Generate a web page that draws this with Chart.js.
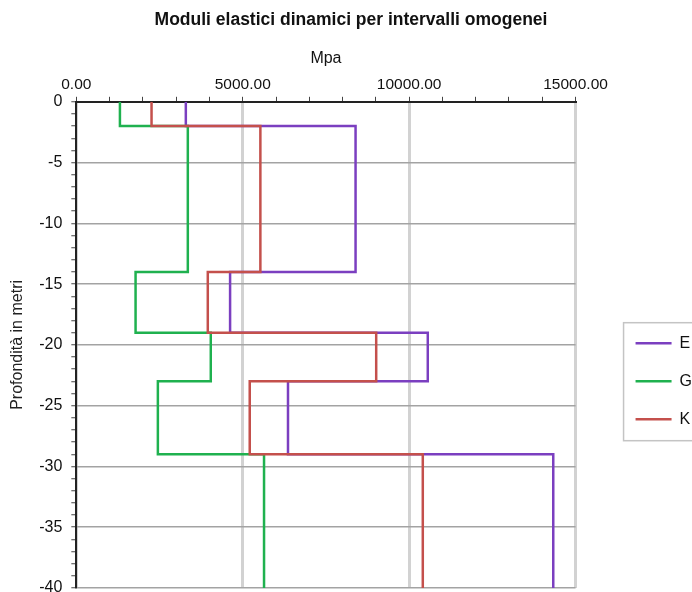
<!DOCTYPE html>
<html lang="it">
<head>
<meta charset="utf-8">
<title>Moduli elastici dinamici</title>
<script src="https://cdn.jsdelivr.net/npm/chart.js@4.4.1/dist/chart.umd.min.js"></script>
<style>
  html, body { margin:0; padding:0; background:#fff; }
  #box { position:relative; width:692px; height:592px; }
</style>
</head>
<body>
<div id="box"><canvas id="grafico"></canvas></div>
<script>
/* moduli per intervallo omogeneo: un valore per strato, strati delimitati da "profondita" */
const profondita = [0, -2, -14, -19, -23, -29, -40];
const moduloE    = [3290, 8390, 4620, 10560, 6360, 14330];
const moduloG    = [1310, 3350, 1780, 4040, 2450, 5640];
const moduloK    = [2260, 5530, 3950, 9010, 5210, 10410];
const tickX      = [0, 5000, 10000, 15000];
const tickY      = [0, -5, -10, -15, -20, -25, -30, -35, -40];

const FONT = "'Liberation Sans', Arial, sans-serif";

// ogni strato diventa due punti (tetto e base) -> linea a gradini
function gradini(valori) {
  return valori.flatMap((v, i) => [{ x: v, y: profondita[i] }, { x: v, y: profondita[i + 1] }]);
}

function serie(label, valori, colore, ordine) {
  return {
    label, data: gradini(valori), showLine: true,
    borderColor: colore, backgroundColor: colore,
    borderWidth: 2.5, pointRadius: 0, pointHoverRadius: 0,
    borderJoinStyle: "miter", tension: 0, order: ordine
  };
}

// cornice grigia attorno alla legenda
const cornice = {
  id: "cornice",
  afterDraw(chart) {
    const hb = chart.legend && chart.legend.legendHitBoxes;
    if (!hb || !hb.length) return;
    const ctx = chart.ctx, a = hb[0], b = hb[hb.length - 1];
    const top = a.top - 12.5, bottom = b.top + b.height + 13.5;
    ctx.save();
    ctx.strokeStyle = "#c4c4c4";
    ctx.lineWidth = 1.5;
    ctx.strokeRect(a.left - 12, top, chart.width, bottom - top);
    ctx.restore();
  }
};

new Chart(document.getElementById("grafico"), {
  type: "scatter",
  data: {
    datasets: [
      serie("E", moduloE, "#7b3fc0", 2),
      serie("G", moduloG, "#1fb14f", 1),
      serie("K", moduloK, "#c4504c", 0)
    ]
  },
  options: {
    responsive: true,
    maintainAspectRatio: false,
    animation: false,
    layout: { padding: { top: 0, right: -10, bottom: 0, left: 0 } },
    plugins: {
      title: {
        display: true,
        text: "Moduli elastici dinamici per intervalli omogenei",
        color: "#111",
        font: { family: FONT, size: 17.5, weight: "bold" },
        padding: { top: 10, bottom: 12 }
      },
      legend: {
        position: "right",
        title: { display: true, text: "", padding: { top: 156, bottom: 0 }, font: { size: 12 } },
        labels: {
          usePointStyle: true, pointStyle: "line", pointStyleWidth: 36,
          padding: 22, color: "#111",
          font: { family: FONT, size: 16 },
          sort: (a, b) => a.datasetIndex - b.datasetIndex
        }
      },
      tooltip: { enabled: false }
    },
    scales: {
      x: {
        type: "linear", position: "top", min: 0, max: 15000,
        title: { display: true, text: "Mpa", color: "#111", font: { family: FONT, size: 16 }, padding: { top: 6, bottom: 4 } },
        ticks: {
          stepSize: 1000, autoSkip: false, maxRotation: 0, padding: 3,
          color: "#111", font: { family: FONT, size: 15.5 },
          callback: v => tickX.includes(v) ? v.toFixed(2) : ""
        },
        grid: {
          tickLength: 5, tickWidth: 1,
          color: c => c.tick && tickX.includes(c.tick.value) ? "#d2d2d2" : "transparent",
          lineWidth: c => c.tick && tickX.includes(c.tick.value) ? 3 : 1,
          tickColor: "#444"
        },
        border: { display: true, color: "#222", width: 2 }
      },
      y: {
        type: "linear", min: -40, max: 0,
        title: { display: true, text: "Profondità in metri", color: "#222", font: { family: FONT, size: 16 }, padding: { top: 8, bottom: 3 } },
        ticks: {
          stepSize: 1, autoSkip: false, padding: 9,
          color: "#111", font: { family: FONT, size: 16 },
          callback: v => tickY.includes(v) ? String(v) : ""
        },
        grid: {
          tickLength: 5, tickWidth: 1,
          color: c => c.tick && tickY.includes(c.tick.value) ? "#a3a3a3" : "transparent",
          lineWidth: 1.5,
          tickColor: "#444"
        },
        border: { display: true, color: "#222", width: 2 },
        // l'etichetta -40 nel riferimento è tagliata dal bordo: niente spazio extra sotto
        afterFit(s) { s.paddingBottom = 4; }
      },
      spazio: {
        type: "linear", position: "right", display: true, min: 0, max: 1,
        grid: { display: false }, border: { display: false }, ticks: { display: false },
        afterFit(s) { s.width = 38; }
      }
    }
  },
  plugins: [cornice]
});
</script>
</body>
</html>
